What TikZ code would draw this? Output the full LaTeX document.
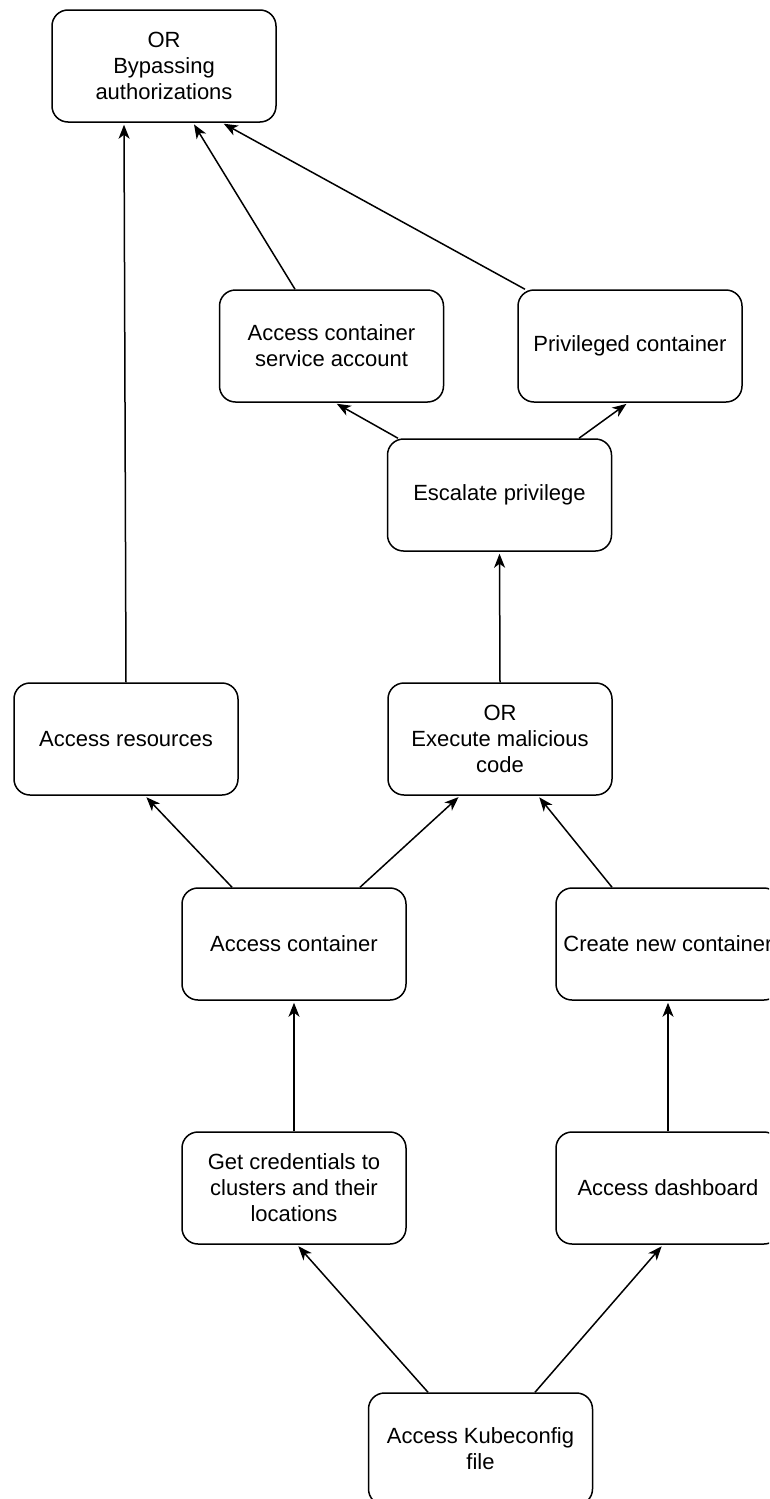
\documentclass[tikz,border=0pt]{standalone}
\usepackage{fontspec}
\setmainfont{Liberation Sans}
\usetikzlibrary{arrows.meta,calc}
\begin{document}
\begin{tikzpicture}[x=1pt,y=-1pt,
  stepbox/.style={draw=black, fill=white, line width=1.5pt, rounded corners=16pt,
    minimum width=224pt, minimum height=112pt, inner sep=0pt, align=center,
    font=\fontsize{22}{26}\selectfont},
  link/.style={line width=1.5pt, draw=black,
    -{Stealth[length=14pt,width=11pt,inset=4pt]}, shorten >=2pt}]
% page frame
\clip (0,0) rectangle (769,1499);

% attack steps
\node[stepbox] (byp)  at (164,66)    {OR\\Bypassing\\authorizations};
\node[stepbox] (sa)   at (331.5,346) {Access container\\service account};
\node[stepbox] (priv) at (630,346)   {Privileged container};
\node[stepbox] (esc)  at (499.5,495) {Escalate privilege};
\node[stepbox] (res)  at (126,739)   {Access resources};
\node[stepbox] (exe)  at (500,739)   {OR\\Execute malicious\\code};
\node[stepbox] (acc)  at (294,944)   {Access container};
\node[stepbox] (new)  at (668,944)   {Create new container};
\node[stepbox] (cred) at (294,1188)  {Get credentials to\\clusters and their\\locations};
\node[stepbox] (dash) at (668,1188)  {Access dashboard};
\node[stepbox] (kube) at (480.5,1449) {Access Kubeconfig\\file};

% dependencies
\draw[link] ([xshift=-52.5pt]kube.north) -- ([xshift=3pt]cred.south);
\draw[link] ([xshift=54.5pt]kube.north) -- ([xshift=-5pt]dash.south);
\draw[link] (cred.north) -- (acc.south);
\draw[link] (dash.north) -- (new.south);
\draw[link] ([xshift=-62pt]acc.north) -- ([xshift=19pt]res.south);
\draw[link] ([xshift=66pt]acc.north) -- ([xshift=-40pt]exe.south);
\draw[link] ([xshift=-56pt]new.north) -- ([xshift=38pt]exe.south);
\draw[link] (exe.north) -- (esc.south);
\draw[link] ([xshift=-101.5pt]esc.north) -- ([xshift=3.5pt]sa.south);
\draw[link] ([xshift=79.5pt]esc.north) -- ([xshift=-2pt]priv.south);
\draw[link] (res.north) -- ([xshift=-40pt]byp.south);
\draw[link] ([xshift=-36.5pt]sa.north) -- ([xshift=29pt]byp.south);
\draw[link] ([xshift=-105pt]priv.north) -- ([xshift=58pt]byp.south);
\end{tikzpicture}
\end{document}
